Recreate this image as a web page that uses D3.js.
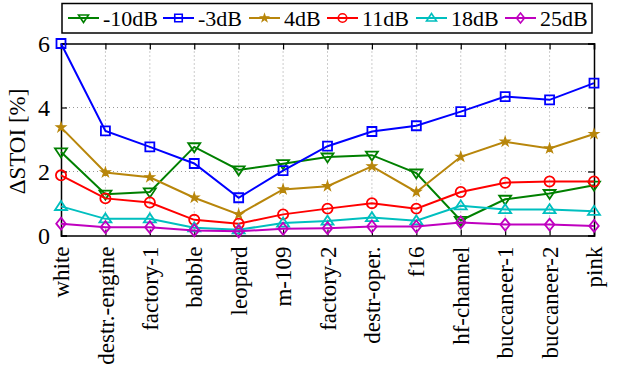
<!DOCTYPE html>
<html>
<head>
<meta charset="utf-8">
<script src="https://cdn.jsdelivr.net/npm/d3@7/dist/d3.min.js"></script>
<style>
  body { margin: 0; background: #fff; }
  svg { display: block; }
  text { font-family: "Liberation Serif", "Times New Roman", serif; fill: #000; }
</style>
</head>
<body>
<svg id="chart" width="631" height="367"></svg>
<script>
// Noise types along the x axis
const categories = ["white", "destr.-engine", "factory-1", "babble", "leopard", "m-109",
  "factory-2", "destr-oper.", "f16", "hf-channel", "buccaneer-1", "buccaneer-2", "pink"];

// ΔSTOI [%] per input SNR
const snrLabels = ["-10dB", "-3dB", "4dB", "11dB", "18dB", "25dB"];
const valsM10 = [2.61, 1.29, 1.36, 2.77, 2.05, 2.24, 2.45, 2.51, 1.95, 0.47, 1.13, 1.31, 1.57];
const valsM3  = [6.00, 3.27, 2.77, 2.25, 1.18, 2.03, 2.79, 3.25, 3.43, 3.87, 4.34, 4.24, 4.76];
const vals4   = [3.38, 1.97, 1.82, 1.18, 0.66, 1.44, 1.54, 2.16, 1.36, 2.46, 2.93, 2.72, 3.17];
const vals11  = [1.88, 1.16, 1.03, 0.49, 0.37, 0.66, 0.84, 1.01, 0.84, 1.36, 1.65, 1.69, 1.69];
const vals18  = [0.91, 0.52, 0.52, 0.24, 0.18, 0.39, 0.45, 0.56, 0.46, 0.93, 0.81, 0.81, 0.76];
const vals25  = [0.37, 0.26, 0.26, 0.16, 0.13, 0.21, 0.23, 0.28, 0.28, 0.41, 0.34, 0.34, 0.30];

const yTicks = [0, 2, 4, 6];

const seriesColors = ["#008000", "#0000ff", "#b8860b", "#ff0000", "#00bfbf", "#bf00bf"];
const seriesMarkers = ["triDown", "square", "star", "circle", "triUp", "diamond"];
const seriesValues = [valsM10, valsM3, vals4, vals11, vals18, vals25];

const svg = d3.select("#chart");
const margin = { left: 61, right: 37, top: 43.5, bottom: 131.5 };
const W = 631, H = 367;
const plotW = W - margin.left - margin.right;
const plotH = H - margin.top - margin.bottom;

const x = d3.scalePoint().domain(categories).range([0, plotW]);
const y = d3.scaleLinear().domain([0, 6]).range([plotH, 0]);

const g = svg.append("g").attr("transform", `translate(${margin.left},${margin.top})`);

// dotted grid
g.append("g").selectAll("line").data(categories.slice(1, -1)).join("line")
  .attr("x1", d => x(d)).attr("x2", d => x(d)).attr("y1", 0).attr("y2", plotH)
  .attr("stroke", "#999").attr("stroke-width", 1).attr("stroke-dasharray", "1,3");
g.append("g").selectAll("line").data(yTicks.slice(1, -1)).join("line")
  .attr("x1", 0).attr("x2", plotW).attr("y1", d => y(d)).attr("y2", d => y(d))
  .attr("stroke", "#999").attr("stroke-width", 1).attr("stroke-dasharray", "1,3");

// axes with inward ticks
const tickLen = 6;
const xAxisB = g.append("g").attr("transform", `translate(0,${plotH})`)
  .call(d3.axisBottom(x).tickSize(-tickLen).tickPadding(10));
const xAxisT = g.append("g").call(d3.axisTop(x).tickSize(-tickLen).tickFormat(""));
const yAxisL = g.append("g").call(d3.axisLeft(y).tickValues(yTicks)
  .tickFormat(d3.format("d")).tickSize(-tickLen).tickPadding(12));
const yAxisR = g.append("g").attr("transform", `translate(${plotW},0)`)
  .call(d3.axisRight(y).tickValues(yTicks).tickSize(-tickLen).tickFormat(""));
[xAxisB, xAxisT, yAxisL, yAxisR].forEach(a => {
  a.attr("font-family", null).attr("font-size", null);
  a.select(".domain").attr("stroke", "#000").attr("stroke-width", 1.5);
  a.selectAll(".tick line").attr("stroke", "#000").attr("stroke-width", 1.2);
});
yAxisL.selectAll(".tick text").style("font-size", "24px").attr("x", -11).attr("dy", "0.34em");
xAxisB.selectAll(".tick text")
  .style("font-size", "23px")
  .attr("text-anchor", "end").attr("dy", "0.33em")
  .attr("transform", "rotate(-90)")
  .attr("x", -11).attr("y", 0);

// y label
svg.append("text").attr("transform", `translate(25,${margin.top + plotH / 2 + 2}) rotate(-90)`)
  .attr("text-anchor", "middle").style("font-size", "23px").text("ΔSTOI [%]");

// marker path generator
function markerPath(type, s) {
  switch (type) {
    case "triDown": return `M${-s},${-s * 0.6}L${s},${-s * 0.6}L0,${s * 0.9}Z`;
    case "triUp": return `M${-s},${s * 0.6}L${s},${s * 0.6}L0,${-s * 0.9}Z`;
    case "square": { const h = s * 0.75; return `M${-h},${-h}H${h}V${h}H${-h}Z`; }
    case "diamond": return `M0,${-s}L${s * 0.8},0L0,${s}L${-s * 0.8},0Z`;
    case "circle": return d3.symbol(d3.symbolCircle, Math.PI * s * s * 0.72)();
    case "star": return d3.symbol(d3.symbolStar, s * s * 0.75)();
  }
}

const line = d3.line().x((d, i) => x(categories[i])).y(d => y(d));

seriesValues.forEach((vals, k) => {
  const col = seriesColors[k];
  g.append("path").datum(vals).attr("d", line)
    .attr("fill", "none").attr("stroke", col).attr("stroke-width", 2);
  g.append("g").selectAll("path").data(vals).join("path")
    .attr("transform", (d, i) => `translate(${x(categories[i])},${y(d)})`)
    .attr("d", markerPath(seriesMarkers[k], 6))
    .attr("fill", seriesMarkers[k] === "star" ? col : "none")
    .attr("stroke", col).attr("stroke-width", seriesMarkers[k] === "star" ? 1.2 : 1.8);
});

// legend
const leg = svg.append("g");
leg.append("rect").attr("x", 62).attr("y", 3.5).attr("width", 530).attr("height", 29.5)
  .attr("fill", "#fff").attr("stroke", "#000").attr("stroke-width", 1.5);
const legX = [68, 163, 249, 327, 416, 505];
snrLabels.forEach((lab, k) => {
  const col = seriesColors[k];
  const lx = legX[k];
  leg.append("line").attr("x1", lx).attr("x2", lx + 31).attr("y1", 18).attr("y2", 18)
    .attr("stroke", col).attr("stroke-width", 2);
  leg.append("path").attr("transform", `translate(${lx + 15.5},18)`)
    .attr("d", markerPath(seriesMarkers[k], 5))
    .attr("fill", seriesMarkers[k] === "star" ? col : "none")
    .attr("stroke", col).attr("stroke-width", seriesMarkers[k] === "star" ? 1.1 : 1.6);
  leg.append("text").attr("x", lx + 35).attr("y", 25.5).style("font-size", "22px").text(lab);
});
</script>
</body>
</html>
